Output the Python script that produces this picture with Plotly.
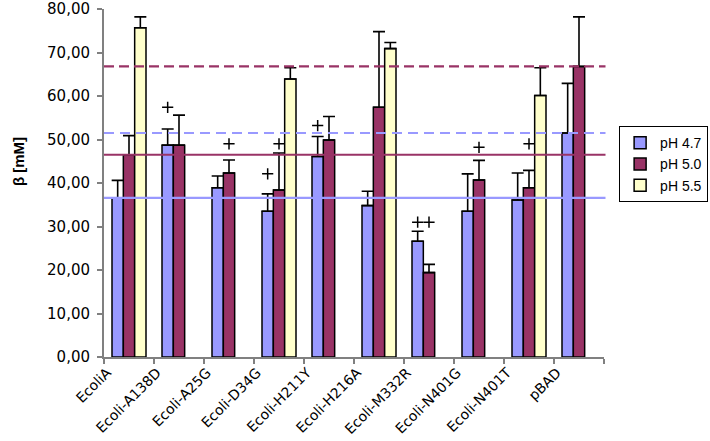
import plotly.graph_objects as go

categories = ["EcoliA", "Ecoli-A138D", "Ecoli-A25G", "Ecoli-D34G", "Ecoli-H211Y",
              "Ecoli-H216A", "Ecoli-M332R", "Ecoli-N401G", "Ecoli-N401T", "pBAD"]

ph47 = [36.6, 48.7, 38.9, 33.5, 46.1, 34.8, 26.6, 33.5, 36.1, 51.5]
ph47_err = [4.0, 3.7, 2.7, 4.0, 4.6, 3.3, 2.3, 8.6, 6.2, 11.4]

ph50 = [46.5, 48.7, 42.3, 38.4, 49.9, 57.4, 19.4, 40.7, 38.9, 66.8]
ph50_err = [4.4, 6.9, 3.0, 8.5, 5.4, 17.4, 1.9, 4.5, 4.0, 11.4]

ph55 = [75.7, None, None, 63.9, None, 70.9, None, None, 60.1, None]
ph55_err = [2.5, None, None, 2.6, None, 1.4, None, None, 6.4, None]

# positions of the "+" significance marks (per series)
plus47 = [None, 57.4, None, 42.1, 53.2, None, 31.0, None, None, None]
plus50 = [None, None, 49.0, 49.0, None, None, 31.0, 48.2, 49.0, None]
plus55 = [None] * 10

series_names = ["pH 4.7", "pH 5.0", "pH 5.5"]
colors = ["#9999FF", "#993366", "#FFFFCC"]
y_title = "β [mM]"

FONT = "DejaVu Sans"

fig = go.Figure()
for name, vals, errs, col, grp in zip(series_names, [ph47, ph50, ph55],
                                      [ph47_err, ph50_err, ph55_err], colors, ["a", "b", "c"]):
    fig.add_trace(go.Bar(
        x=categories, y=vals, name=name, offsetgroup=grp,
        marker=dict(color=col, line=dict(color="#000000", width=1.5)),
        error_y=dict(type="data", array=errs, symmetric=False,
                     arrayminus=[0] * len(errs),
                     color="#000000", thickness=1.6, width=6),
    ))

for marks, grp in zip([plus47, plus50, plus55], ["a", "b", "c"]):
    fig.add_trace(go.Scatter(
        x=categories, y=marks, mode="markers", offsetgroup=grp,
        marker=dict(symbol="cross-thin", size=8, color="#000000",
                    line=dict(color="#000000", width=1.5)),
        showlegend=False, hoverinfo="skip",
    ))

# reference lines: EcoliA (solid) and pBAD (dashed) values
ref_lines = [
    (ph47[0], "#9999FF", "solid"),
    (ph50[0], "#993366", "solid"),
    (ph47[-1], "#9999FF", "10px,6px"),
    (ph50[-1], "#993366", "10px,5px"),
]
for yv, col, dash in ref_lines:
    fig.add_shape(type="line", xref="paper", yref="y", x0=0, x1=1.003, y0=yv, y1=yv,
                  line=dict(color=col, width=2.2, dash=dash), layer="above")

fig.add_annotation(text="<b>" + y_title + "</b>", xref="paper", yref="paper",
                   x=-0.172, y=0.56, xanchor="center", yanchor="middle",
                   textangle=-90, showarrow=False,
                   font=dict(family="Liberation Sans", size=15, color="#000000"))

fig.update_layout(
    width=710, height=441,
    margin=dict(l=104, r=106, t=9, b=84),
    paper_bgcolor="white", plot_bgcolor="white",
    barmode="group", bargap=0.32, bargroupgap=0,
    scattermode="group", scattergap=0.32,
    separators=",.",
    font=dict(family=FONT, size=15, color="#000000"),
    legend=dict(xref="container", yref="container", x=0.872, y=0.714,
                xanchor="left", yanchor="top",
                bordercolor="#000000", borderwidth=1, bgcolor="white",
                font=dict(family="Liberation Sans", size=14), tracegroupgap=0,
                itemwidth=30),
    showlegend=True,
)
fig.update_xaxes(
    type="category", tickangle=-45, tickson="boundaries", automargin=False,
    ticks="outside", ticklen=5, tickcolor="#808080", tickwidth=1.5,
    showline=True, linecolor="#808080", linewidth=2,
    showgrid=False, zeroline=False,
    tickfont=dict(family=FONT, size=14), ticklabelshift=-22,
)
fig.update_yaxes(
    range=[0, 80], dtick=10, tickformat=".2f", automargin=False,
    ticks="outside", ticklen=5, tickcolor="#808080", tickwidth=1.5,
    showline=True, linecolor="#808080", linewidth=2,
    showgrid=False, zeroline=False,
    tickfont=dict(family=FONT, size=15), ticklabelstandoff=4,
)

fig.write_html("out.html", config={"displayModeBar": False},
               post_script="document.body.style.margin='0';document.body.style.padding='0';")
